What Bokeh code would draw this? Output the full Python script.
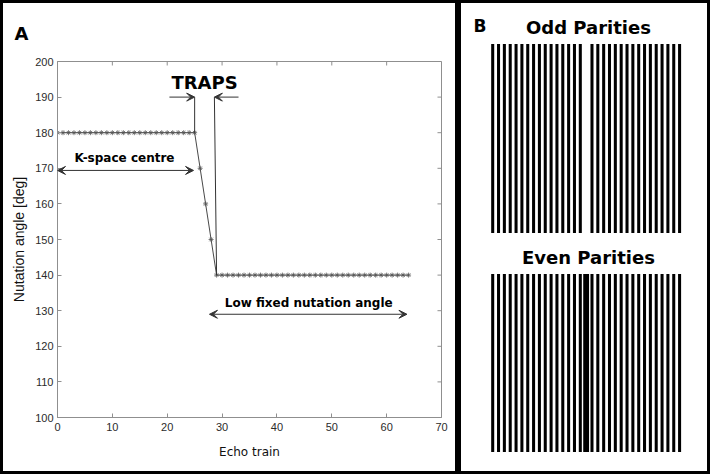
from bokeh.plotting import figure
from bokeh.layouts import row
from bokeh.models import (Range1d, Label, Arrow, VeeHead, FixedTicker)
from bokeh.embed import file_html
from bokeh.resources import INLINE

# ---------------- data (panel A) ----------------
echo_index = [0, 1, 2, 3, 4, 5, 6, 7, 8, 9, 10, 11, 12, 13, 14, 15, 16, 17, 18, 19,
              20, 21, 22, 23, 24, 25, 26, 27, 28, 29, 30, 31, 32, 33, 34, 35, 36, 37,
              38, 39, 40, 41, 42, 43, 44, 45, 46, 47, 48, 49, 50, 51, 52, 53, 54, 55,
              56, 57, 58, 59, 60, 61, 62, 63, 64]
nutation_angle = [180, 180, 180, 180, 180, 180, 180, 180, 180, 180, 180, 180, 180,
                  180, 180, 180, 180, 180, 180, 180, 180, 180, 180, 180, 180, 180,
                  170, 160, 150,
                  140, 140, 140, 140, 140, 140, 140, 140, 140, 140, 140, 140, 140,
                  140, 140, 140, 140, 140, 140, 140, 140, 140, 140, 140, 140, 140,
                  140, 140, 140, 140, 140, 140, 140, 140, 140, 140]
x_ticks = [0, 10, 20, 30, 40, 50, 60, 70]
y_ticks = [100, 110, 120, 130, 140, 150, 160, 170, 180, 190, 200]

traps_start = 25
traps_end = 29
traps_end_top = 28.6
traps_level = 190
kspace_span = [0, 24.8]
kspace_level = 169.4
low_span = [27.7, 63.7]
low_level = 129

# ---------------- data (panel B) ----------------
odd_stripes = [0, 1, 2, 3, 4, 5, 6, 7, 8, 9, 10, 11, 12, 13, 14, 15,
               17, 18, 19, 20, 21, 22, 23, 24, 25, 26, 27, 28, 29, 30, 31, 32]
even_stripes = [0, 1, 2, 3, 4, 5, 6, 7, 8, 9, 10, 11, 12, 13, 14, 15,
                17, 18, 19, 20, 21, 22, 23, 24, 25, 26, 27, 28, 29, 30, 31, 32]
even_center = [16]

GRAY = "#8f8f8f"
TXT = "#2b2b2b"
LINE = "#333333"
BORDER = {"border": "3px solid black", "box-sizing": "content-box"}

X0, X1 = 0, 70
Y0, Y1 = 100, 200

# ================= Panel A =================
pA = figure(width=452, height=468, x_range=Range1d(X0, X1), y_range=Range1d(Y0, Y1),
            output_backend="svg", toolbar_location=None,
            min_border_left=54, min_border_right=20, min_border_top=57,
            min_border_bottom=60, styles=BORDER)
pA.frame_align = False
pA.grid.visible = False
pA.outline_line_color = GRAY
pA.background_fill_color = "white"
pA.border_fill_color = "white"

for ax in [pA.xaxis[0], pA.yaxis[0]]:
    ax.axis_line_color = GRAY
    ax.major_tick_line_color = GRAY
    ax.major_tick_in = 4
    ax.major_tick_out = 0
    ax.minor_tick_line_color = None
    ax.major_label_text_font = "Liberation Sans"
    ax.major_label_text_font_size = "11px"
    ax.major_label_text_color = TXT
    ax.axis_label_text_font_style = "normal"
    ax.axis_label_text_color = "#111111"
pA.xaxis[0].ticker = FixedTicker(ticks=x_ticks)
pA.yaxis[0].ticker = FixedTicker(ticks=y_ticks)
pA.xaxis[0].major_label_standoff = 5
pA.yaxis[0].major_label_standoff = 4
pA.xaxis[0].axis_label = "Echo train"
pA.xaxis[0].axis_label_text_font = "DejaVu Sans"
pA.xaxis[0].axis_label_text_font_size = "12px"
pA.xaxis[0].axis_label_standoff = 11
pA.yaxis[0].axis_label = "Nutation angle [deg]"
pA.yaxis[0].axis_label_text_font = "Liberation Sans"
pA.yaxis[0].axis_label_text_font_size = "14px"
pA.yaxis[0].axis_label_standoff = 5

# inward ticks on the top and right sides of the box (MATLAB style)
pA.segment(x0=x_ticks, y0=[Y1] * len(x_ticks), x1=x_ticks, y1=[Y1 - 1.12] * len(x_ticks),
           line_color=GRAY, line_width=1)
pA.segment(x0=[X1] * len(y_ticks), y0=y_ticks, x1=[X1 - 0.73] * len(y_ticks), y1=y_ticks,
           line_color=GRAY, line_width=1)

# panel letter as title
pA.title.text = "A"
pA.title.align = "left"
pA.title.offset = -43
pA.title.standoff = 35
pA.title.text_font = "DejaVu Sans"
pA.title.text_font_style = "bold"
pA.title.text_font_size = "18px"
pA.title.text_color = "black"

# data line + markers
pA.line(echo_index, nutation_angle, line_color=LINE, line_width=0.9)
pA.scatter(echo_index, nutation_angle, marker="asterisk", size=5,
           line_color="#555555", line_width=0.8)

# TRAPS bracket
pA.segment(x0=[traps_start, traps_end], y0=[nutation_angle[traps_start], nutation_angle[traps_end]],
           x1=[traps_start, traps_end_top], y1=[traps_level, traps_level],
           line_color=LINE, line_width=1)
pA.add_layout(Arrow(end=VeeHead(size=8, fill_color=LINE, line_color=LINE),
                    x_start=traps_start - 4.6, y_start=traps_level,
                    x_end=traps_start, y_end=traps_level,
                    line_color=LINE, line_width=1))
pA.add_layout(Arrow(end=VeeHead(size=8, fill_color=LINE, line_color=LINE),
                    x_start=traps_end_top + 4.4, y_start=traps_level,
                    x_end=traps_end_top, y_end=traps_level,
                    line_color=LINE, line_width=1))
pA.add_layout(Label(x=26.8, y=194.1, text="TRAPS", text_font="DejaVu Sans",
                    text_font_style="bold", text_font_size="18px", text_color="black",
                    text_align="center", text_baseline="middle"))

# K-space centre
pA.add_layout(Arrow(start=VeeHead(size=8, fill_color=LINE, line_color=LINE),
                    end=VeeHead(size=8, fill_color=LINE, line_color=LINE),
                    x_start=kspace_span[0], y_start=kspace_level,
                    x_end=kspace_span[1], y_end=kspace_level,
                    line_color=LINE, line_width=1))
pA.add_layout(Label(x=12.2, y=172.8, text="K-space centre", text_font="DejaVu Sans",
                    text_font_style="bold", text_font_size="12px", text_color="black",
                    text_align="center", text_baseline="middle"))

# Low fixed nutation angle
pA.add_layout(Arrow(start=VeeHead(size=8, fill_color=LINE, line_color=LINE),
                    end=VeeHead(size=8, fill_color=LINE, line_color=LINE),
                    x_start=low_span[0], y_start=low_level,
                    x_end=low_span[1], y_end=low_level,
                    line_color=LINE, line_width=1))
pA.add_layout(Label(x=45.8, y=132.3, text="Low fixed nutation angle", text_font="DejaVu Sans",
                    text_font_style="bold", text_font_size="12px", text_color="black",
                    text_align="center", text_baseline="middle"))

# ================= Panel B =================
unit = 5.84
bx0 = (461 - 492.2) / unit
bx1 = (713 - 492.2) / unit
pB = figure(width=246, height=468, x_range=Range1d(bx0, bx1),
            y_range=Range1d(477, 3), output_backend="svg", toolbar_location=None,
            x_axis_location=None, y_axis_location=None,
            min_border=0, min_border_left=0, min_border_right=0,
            min_border_top=0, min_border_bottom=0, styles=BORDER)
pB.frame_align = False
pB.grid.visible = False
pB.outline_line_color = None
pB.background_fill_color = "white"
pB.border_fill_color = "white"

pB.vbar(x=odd_stripes, width=0.52, top=43.5, bottom=232.5, fill_color="black", line_color=None)
pB.vbar(x=even_stripes, width=0.52, top=273.5, bottom=451.5, fill_color="black", line_color=None)
pB.vbar(x=even_center, width=1.0, top=273.5, bottom=451.5, fill_color="black", line_color=None)

pB.add_layout(Label(x=16.4, y=27, text="Odd Parities", text_font="DejaVu Sans",
                    text_font_style="bold", text_font_size="18px", text_color="black",
                    text_align="center", text_baseline="middle"))
pB.add_layout(Label(x=16.4, y=257, text="Even Parities", text_font="DejaVu Sans",
                    text_font_style="bold", text_font_size="18px", text_color="black",
                    text_align="center", text_baseline="middle"))
pB.add_layout(Label(x=(473 - 492.2) / unit, y=25, text="B", text_font="DejaVu Sans",
                    text_font_style="bold", text_font_size="17px", text_color="black",
                    text_align="left", text_baseline="middle"))

layout = row(pA, pB)
open("out.html", "w").write(file_html(layout, INLINE))
